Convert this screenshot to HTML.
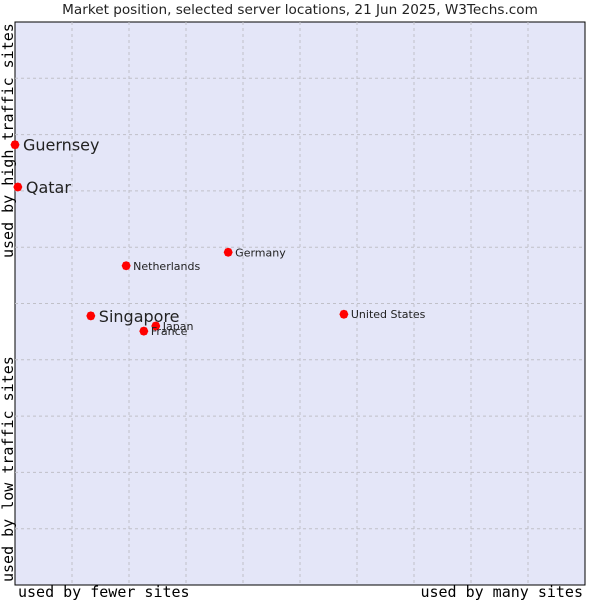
<!DOCTYPE html>
<html><head><meta charset="utf-8"><style>
html,body{margin:0;padding:0;background:#fff;width:600px;height:600px;overflow:hidden}
svg text{font-family:"DejaVu Sans","Liberation Sans",sans-serif}
.mono{font-family:"DejaVu Sans Mono","Liberation Mono",monospace}
</style></head><body>
<svg id="chart" width="600" height="600">
<text x="300" y="14" text-anchor="middle" font-size="13.6" fill="#222">Market position, selected server locations, 21 Jun 2025, W3Techs.com</text>
<rect x="15" y="22" width="570" height="563" fill="#e4e6f8" stroke="#000" stroke-width="1"/>
<g id="grid"></g>
<g id="points"></g>
<text class="mono" x="18" y="597" font-size="15" fill="#000">used by fewer sites</text>
<text class="mono" x="583" y="597" font-size="15" text-anchor="end" fill="#000">used by many sites</text>
<text class="mono" transform="translate(13,258) rotate(-90)" font-size="15" fill="#000">used by high traffic sites</text>
<text class="mono" transform="translate(13,582) rotate(-90)" font-size="15" fill="#000">used by low traffic sites</text>
</svg>
<script>
const names=["Guernsey","Qatar","Germany","Netherlands","Singapore","Japan","France","United States"];
const xValues=[0,0.5,37.4,19.5,13.3,24.7,22.6,57.7];
const yValues=[78.2,70.7,59.1,56.7,47.8,46.0,45.1,48.1];
const bigLabel=[true,true,false,false,true,false,false,false];
const ns="http://www.w3.org/2000/svg";
const X0=15,X1=585,Y0=585,Y1=22;
const sx=v=>X0+v/100*(X1-X0);
const sy=v=>Y0-v/100*(Y0-Y1);
const grid=document.getElementById('grid');
for(let i=1;i<10;i++){
  const a=document.createElementNS(ns,'line');
  
  
  a.setAttribute('x1',sx(i*10));a.setAttribute('x2',sx(i*10));a.setAttribute('y1',Y1);a.setAttribute('y2',Y0);
  a.setAttribute('stroke','#c0c0c8');a.setAttribute('stroke-dasharray','3,3');grid.appendChild(a);
  const b=document.createElementNS(ns,'line');
  
  
  b.setAttribute('y1',sy(i*10));b.setAttribute('y2',sy(i*10));b.setAttribute('x1',X0);b.setAttribute('x2',X1);
  b.setAttribute('stroke','#c0c0c8');b.setAttribute('stroke-dasharray','3,3');grid.appendChild(b);
}
const pts=document.getElementById('points');
names.forEach((n,i)=>{
  const x=sx(xValues[i]),y=sy(yValues[i]);
  const m=document.createElementNS(ns,'path');
  
  
  m.setAttribute('d',`M${x-4.5},${y} L${x-3},${y-3.5} L${x},${y-4.5} L${x+3},${y-3.5} L${x+4.5},${y} L${x+3},${y+3.5} L${x},${y+4.5} L${x-3},${y+3.5}Z`);
  m.setAttribute('fill','#f00');pts.appendChild(m);
  const t=document.createElementNS(ns,'text');
  
  
  const big=bigLabel[i];
  t.setAttribute('x',x+(big?8:7));t.setAttribute('y',y+(big?6:4));
  t.setAttribute('font-size',big?16:11);t.setAttribute('fill','#222');
  t.textContent=n;pts.appendChild(t);
});
</script>
</body></html>
